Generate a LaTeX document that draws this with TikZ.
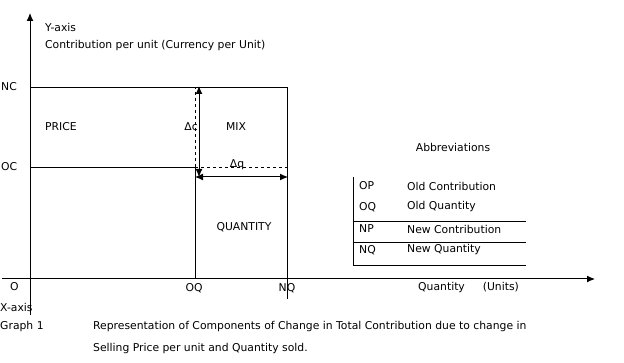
\documentclass[tikz,border=0pt]{standalone}
\usepackage{fontspec}
\setmainfont{DejaVu Sans}
\usetikzlibrary{arrows.meta}
\begin{document}
\begin{tikzpicture}[
    x=1pt, y=-1pt,
    txt/.style={font=\fontsize{10.8}{12}\selectfont, inner sep=0pt, anchor=west},
    ctr/.style={font=\fontsize{10.8}{12}\selectfont, inner sep=0pt},
    line/.style={draw, line width=0.7pt},
    axis/.style={draw, line width=1pt, -{Latex[length=8pt,width=7pt]}},
    dim/.style={draw, line width=1pt, {Latex[length=8pt,width=7pt]}-{Latex[length=8pt,width=7pt]}},
    guide/.style={draw, line width=0.6pt, dashed}
  ]
  \useasboundingbox (0,0) rectangle (624,363);

  % axes
  \coordinate (yb) at (30,315);
  \coordinate (yt) at (30,13);
  \coordinate (xl) at (2,279);
  \coordinate (xr) at (595,279);
  \draw[axis] (yb) -- (yt);
  \draw[axis] (xl) -- (xr);

  % levels and quantities
  \coordinate (nc) at (30,87);
  \coordinate (oc) at (30,167);
  \coordinate (ncq) at (287,87);
  \coordinate (nqb) at (287,299);
  \coordinate (ocq) at (195,167);
  \coordinate (oqb) at (195,279);
  \coordinate (oqt) at (195,87);
  \coordinate (ocn) at (287,167);
  \draw[line] (nc) -- (ncq) -- (nqb);
  \draw[line] (oc) -- (ocq) -- (oqb);
  \draw[guide] (ocq) -- (oqt);
  \draw[guide] (ocq) -- (ocn);

  % changes
  \coordinate (dct) at (199,86);
  \coordinate (dcb) at (199,177);
  \coordinate (dql) at (195,177);
  \coordinate (dqr) at (288,177);
  \draw[dim] (dcb) -- (dct);
  \draw[dim] (dql) -- (dqr);
  \node[ctr, anchor=east] (dc) at (198,127) {Δc};
  \node[ctr] (dq) at (237,165) {Δq};

  % labels
  \node[txt] (ylab) at (45,27) {Y-axis};
  \node[txt] (ytitle) at (45,46) {Contribution per unit (Currency per Unit)};
  \node[txt] (nclab) at (1,87) {NC};
  \node[txt] (oclab) at (1,167) {OC};
  \node[txt] (olab) at (10,287) {O};
  \node[ctr] (oqlab) at (194,288) {OQ};
  \node[ctr] (nqlab) at (287,288) {NQ};
  \node[txt] (xtitle) at (418,288) {Quantity\hspace{18pt}(Units)};
  \node[txt] (xlab) at (0,307) {X-axis};
  \node[ctr] (price) at (61,127) {PRICE};
  \node[ctr] (mix) at (236,127) {MIX};
  \node[ctr] (qty) at (244,227) {QUANTITY};

  % abbreviations
  \node[ctr] (abbr) at (453,147) {Abbreviations};
  \coordinate (tt) at (353,177);
  \coordinate (tb) at (353,265);
  \draw[line] (tt) -- (tb) -- (526,265);
  \draw[line] (353,221) -- (526,221);
  \draw[line] (353,242) -- (526,242);
  \foreach \ab/\full/\y [count=\i] in {OP/Old Contribution/186, OQ/Old Quantity/207,
      NP/New Contribution/229, NQ/New Quantity/250}{
    \node[txt] (ab\i) at (359,\y) {\ab};
    \node[txt] (full\i) at (407,\y) {\full};
  }

  % caption
  \node[txt] (graph) at (0,327) {Graph 1};
  \node[txt] (cap1) at (93,327) {Representation of Components of Change in Total Contribution due to change in};
  \node[txt] (cap2) at (93,349) {Selling Price per unit and Quantity sold.};
\end{tikzpicture}
\end{document}
